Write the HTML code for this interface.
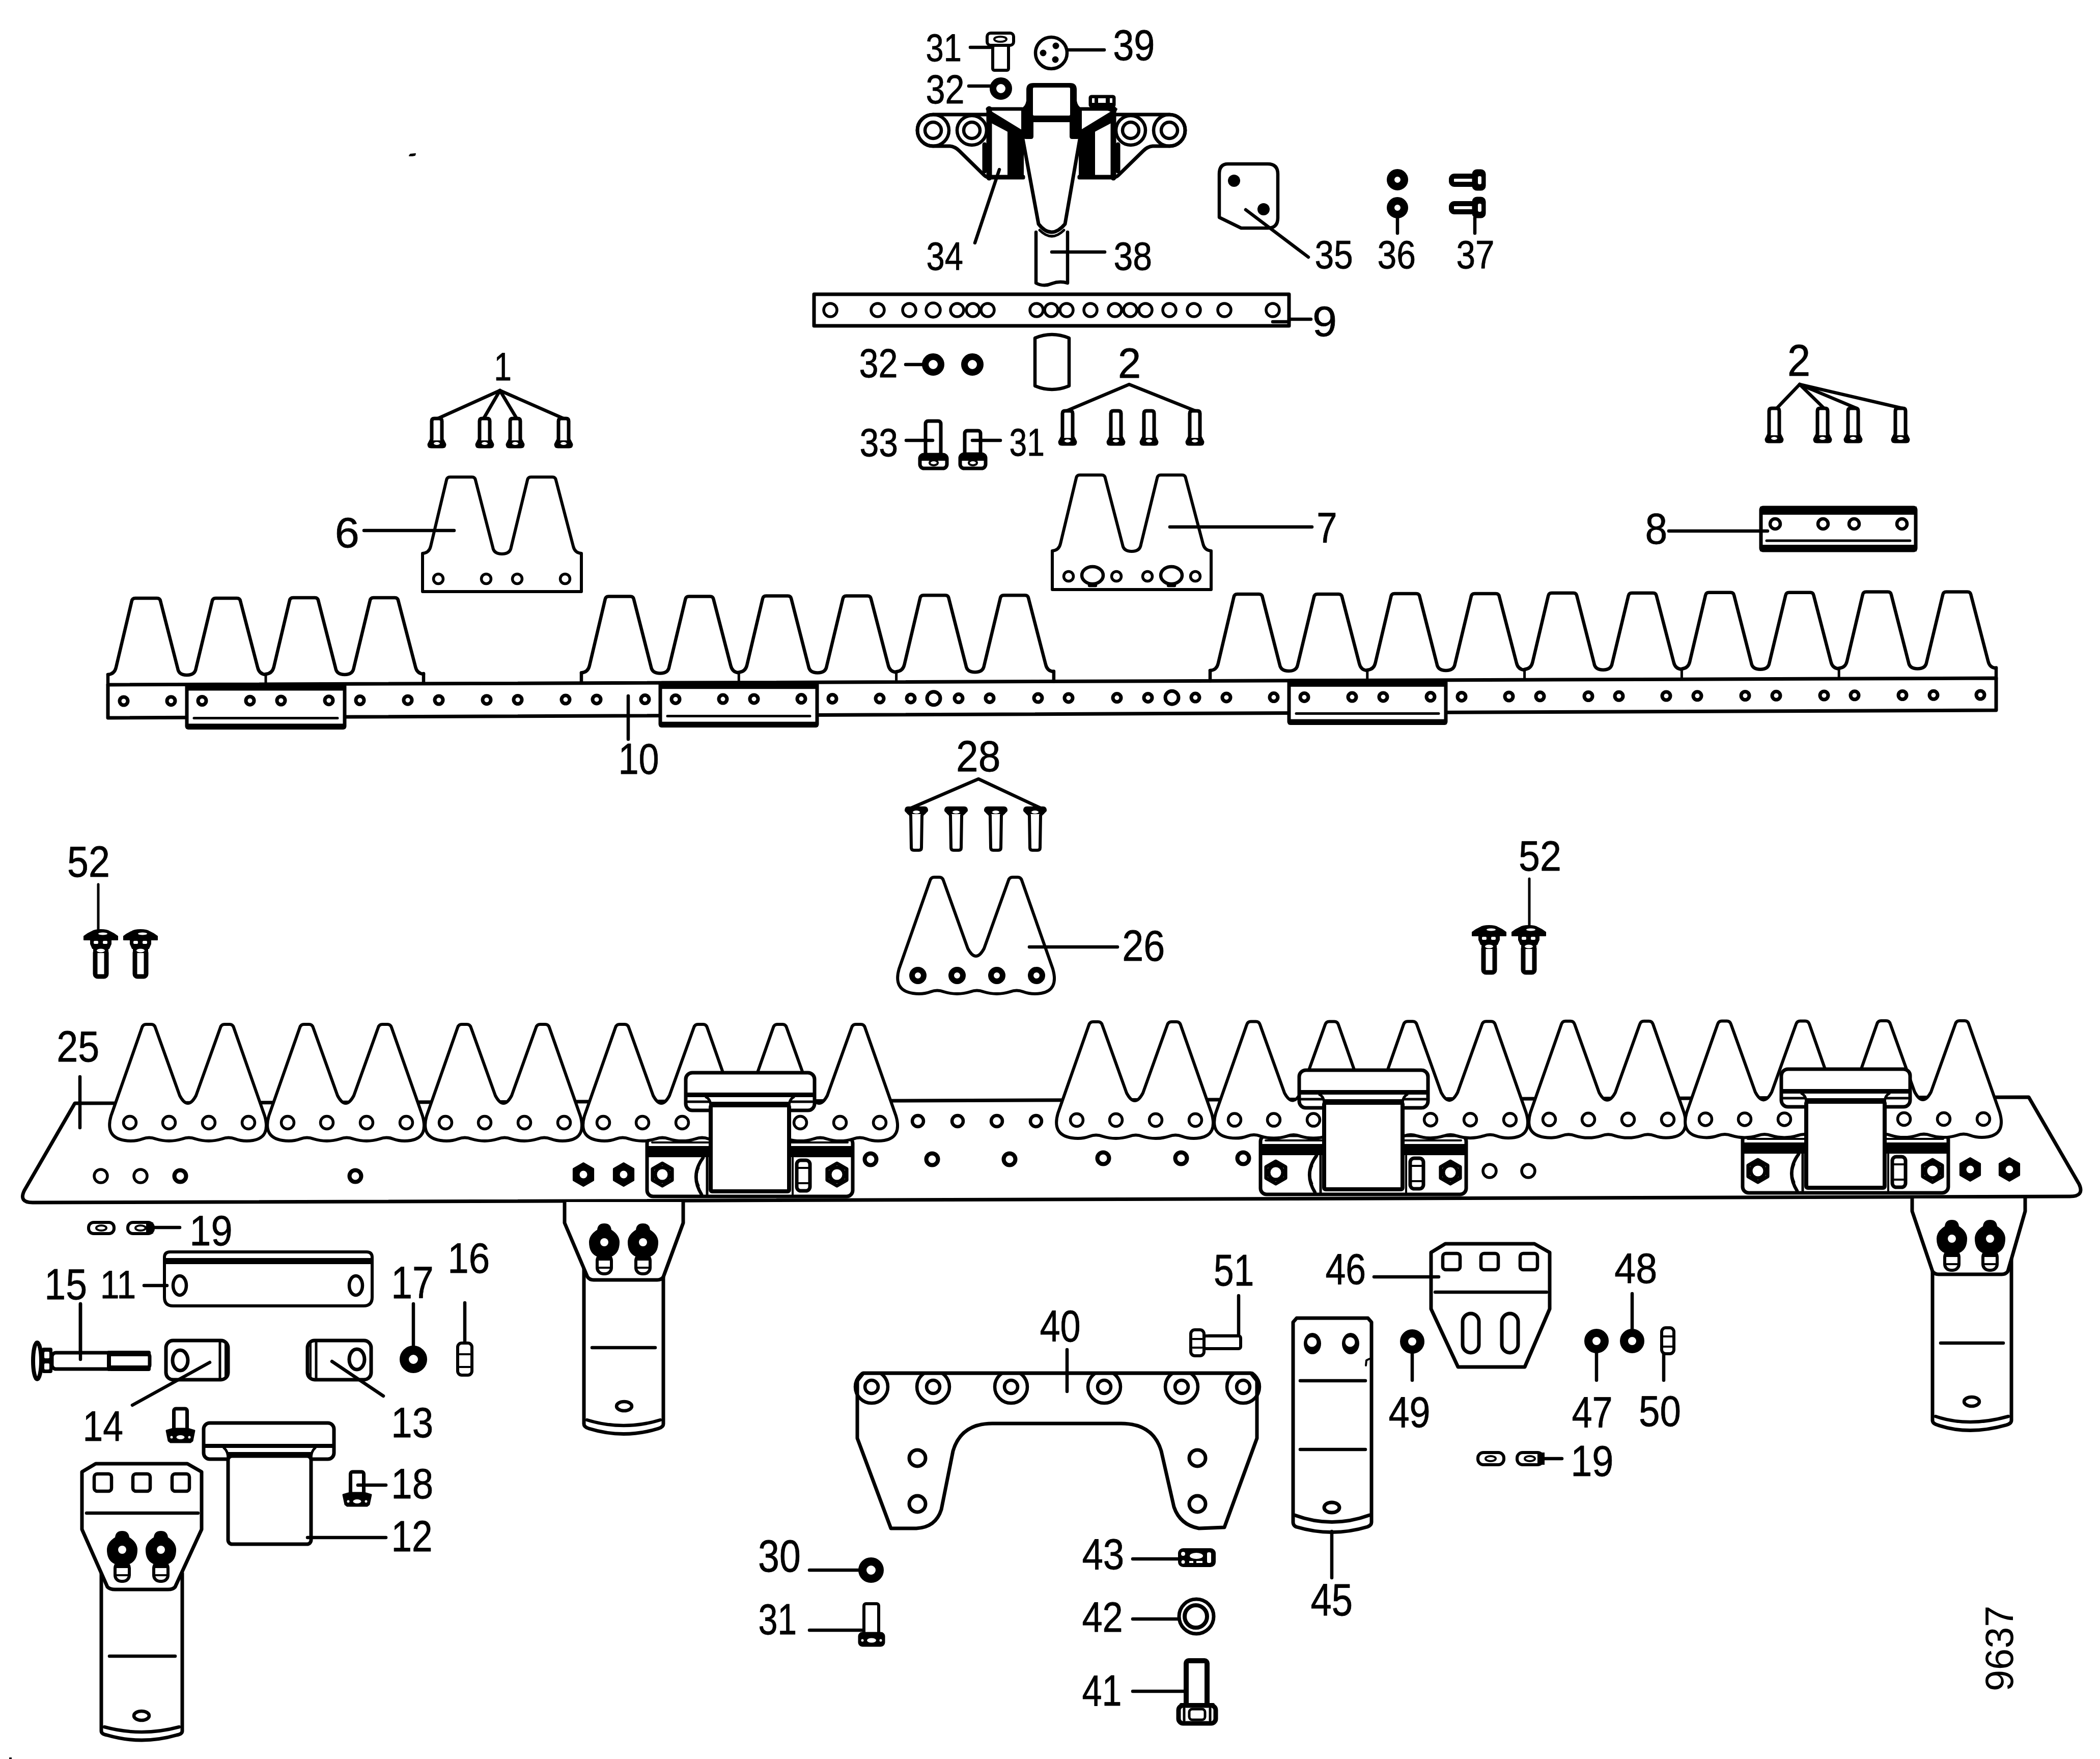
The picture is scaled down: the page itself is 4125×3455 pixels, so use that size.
<!DOCTYPE html>
<html><head><meta charset="utf-8"><style>
html,body{margin:0;padding:0;background:#fff;}
svg{display:block;}
text{font-family:"Liberation Sans",sans-serif;fill:#000;}
</style></head><body>
<svg width="4125" height="3455" viewBox="0 0 4125 3455">
<g fill="none" stroke="#000" stroke-linecap="round" stroke-linejoin="round">
<rect x="1939" y="65" width="52" height="24" rx="7" stroke-width="6" fill="#fff"/>
<ellipse cx="1965" cy="77" rx="12" ry="5" stroke-width="4" fill="none"/>
<rect x="1950" y="89" width="31" height="49" rx="3" stroke-width="6" fill="#fff"/>
<line x1="1906" y1="93" x2="1950" y2="93" stroke-width="6.5"/>
<circle cx="2065" cy="104" r="31" stroke-width="6.5" fill="none"/>
<circle cx="2074" cy="90" r="6.5" stroke-width="0" fill="#000"/>
<circle cx="2049" cy="104" r="6.5" stroke-width="0" fill="#000"/>
<circle cx="2073" cy="117" r="6.5" stroke-width="0" fill="#000"/>
<line x1="2096" y1="98" x2="2169" y2="98" stroke-width="6.5"/>
<circle cx="1966" cy="174" r="15.5" stroke-width="13" fill="none"/>
<line x1="1903" y1="169" x2="1945" y2="169" stroke-width="6.5"/>
<path d="M 1942,225 L 1833,225 A 31 31 0 0 0 1833,287 L 1866,287 Q 1876,288 1884,296 L 1933,344 Q 1938,349 1946,349 L 2010,349" stroke-width="7" fill="none"/>
<circle cx="1833" cy="256" r="31" stroke-width="6.5" fill="none"/>
<circle cx="1833" cy="256" r="16" stroke-width="6.5" fill="none"/>
<circle cx="1909" cy="256" r="29" stroke-width="6.5" fill="none"/>
<circle cx="1909" cy="256" r="16" stroke-width="6.5" fill="none"/>
<line x1="1940" y1="214" x2="2007" y2="214" stroke-width="7"/>
<line x1="1943" y1="214" x2="1943" y2="349" stroke-width="11"/>
<polygon points="1948,220 2010,258 2010,350 1980,350 1980,258 1948,241" stroke-width="2" fill="#000"/>
<line x1="1943" y1="347" x2="2010" y2="347" stroke-width="7"/>
<line x1="1934" y1="284" x2="1934" y2="336" stroke-width="9"/>
<path d="M 2188,225 L 2297,225 A 31 31 0 0 1 2297,287 L 2264,287 Q 2254,288 2246,296 L 2197,344 Q 2192,349 2184,349 L 2120,349" stroke-width="7" fill="none"/>
<circle cx="2297" cy="256" r="31" stroke-width="6.5" fill="none"/>
<circle cx="2297" cy="256" r="16" stroke-width="6.5" fill="none"/>
<circle cx="2221" cy="256" r="29" stroke-width="6.5" fill="none"/>
<circle cx="2221" cy="256" r="16" stroke-width="6.5" fill="none"/>
<line x1="2190" y1="214" x2="2123" y2="214" stroke-width="7"/>
<line x1="2187" y1="214" x2="2187" y2="349" stroke-width="11"/>
<polygon points="2182,220 2120,258 2120,350 2150,350 2150,258 2182,241" stroke-width="2" fill="#000"/>
<line x1="2187" y1="347" x2="2120" y2="347" stroke-width="7"/>
<line x1="2196" y1="284" x2="2196" y2="336" stroke-width="9"/>
<path d="M 2017,176 Q 2017,164 2030,164 L 2102,164 Q 2114,164 2114,176 L 2114,198 Q 2116,210 2124,213 L 2124,265 Q 2124,272 2116,272 L 2106,272 Q 2102,272 2102,268 L 2102,239 L 2029,239 L 2029,268 Q 2029,272 2025,272 L 2015,272 Q 2007,272 2007,265 L 2007,213 Q 2015,210 2017,198 Z" stroke-width="2" fill="#000"/>
<rect x="2029" y="172" width="73" height="55" rx="2" stroke="none" fill="#fff"/>
<path d="M 2007,262 L 2040,440 Q 2065,472 2092,440 L 2123,262" stroke-width="7" fill="none"/>
<path d="M 2042,452 Q 2066,476 2090,452" stroke-width="5" fill="none"/>
<rect x="2140" y="188" width="50" height="22" rx="4" stroke-width="3" fill="#000"/>
<rect x="2145" y="193" width="5" height="9" rx="0" stroke="none" fill="#fff"/>
<rect x="2157" y="193" width="15" height="9" rx="0" stroke="none" fill="#fff"/>
<rect x="2180" y="193" width="5" height="9" rx="0" stroke="none" fill="#fff"/>
<polygon points="2180,210 2194,214 2190,222 2176,216" stroke-width="2" fill="#000"/>
<path d="M 2035,456 L 2035,556 Q 2050,564 2066,557 Q 2082,551 2097,556 L 2097,456" stroke-width="6.5" fill="none"/>
<line x1="2066" y1="495" x2="2170" y2="495" stroke-width="6.5"/>
<line x1="1963" y1="333" x2="1915" y2="477" stroke-width="6.5"/>
<text transform="translate(1818.6,119.6) scale(0.837,1)" font-size="75.7" stroke="#000" stroke-width="0.8">31</text>
<text transform="translate(2186.2,117.6) scale(0.863,1)" font-size="85.7" stroke="#000" stroke-width="0.8">39</text>
<text transform="translate(1818.4,202.6) scale(0.854,1)" font-size="80" stroke="#000" stroke-width="0.8">32</text>
<text transform="translate(1819.5,529.6) scale(0.828,1)" font-size="78.6" stroke="#000" stroke-width="0.8">34</text>
<text transform="translate(2187.4,529.6) scale(0.864,1)" font-size="78.6" stroke="#000" stroke-width="0.8">38</text>
<path d="M 2412,322 L 2490,322 Q 2510,322 2510,342 L 2510,428 Q 2510,448 2490,448 L 2438,448 L 2395,427 L 2395,342 Q 2395,322 2412,322 Z" stroke-width="6.5" fill="none"/>
<circle cx="2424" cy="355" r="12" stroke-width="0" fill="#000"/>
<circle cx="2482" cy="411" r="12" stroke-width="0" fill="#000"/>
<line x1="2447" y1="412" x2="2570" y2="505" stroke-width="6.5"/>
<text transform="translate(2582.4,526.6) scale(0.862,1)" font-size="78.6" stroke="#000" stroke-width="0.8">35</text>
<circle cx="2745" cy="353" r="13.5" stroke-width="15" fill="none"/>
<circle cx="2745" cy="408" r="13.5" stroke-width="15" fill="none"/>
<line x1="2745" y1="430" x2="2745" y2="458" stroke-width="6.5"/>
<text transform="translate(2705.4,526.6) scale(0.864,1)" font-size="78.6" stroke="#000" stroke-width="0.8">36</text>
<rect x="2851" y="346" width="48" height="16" rx="6" stroke-width="10" fill="#fff"/>
<rect x="2893" y="334" width="24" height="39" rx="8" stroke-width="3" fill="#000"/>
<rect x="2903" y="346" width="7" height="16" rx="3" stroke-width="0" fill="#fff"/>
<rect x="2851" y="400" width="48" height="16" rx="6" stroke-width="10" fill="#fff"/>
<rect x="2893" y="388" width="24" height="39" rx="8" stroke-width="3" fill="#000"/>
<rect x="2903" y="400" width="7" height="16" rx="3" stroke-width="0" fill="#fff"/>
<line x1="2897" y1="428" x2="2897" y2="458" stroke-width="6.5"/>
<text transform="translate(2860.4,526.6) scale(0.858,1)" font-size="78.6" stroke="#000" stroke-width="0.8">37</text>
<rect x="1599" y="578" width="933" height="62" rx="0" stroke-width="7" fill="#fff"/>
<circle cx="1631" cy="609" r="13" stroke-width="5.5" fill="none"/>
<circle cx="1724" cy="609" r="13" stroke-width="5.5" fill="none"/>
<circle cx="1786" cy="609" r="13" stroke-width="5.5" fill="none"/>
<circle cx="1833" cy="609" r="14" stroke-width="5.5" fill="none"/>
<circle cx="1880" cy="609" r="13" stroke-width="5.5" fill="none"/>
<circle cx="1911" cy="609" r="13" stroke-width="5.5" fill="none"/>
<circle cx="1940" cy="609" r="13" stroke-width="5.5" fill="none"/>
<circle cx="2036" cy="609" r="13" stroke-width="5.5" fill="none"/>
<circle cx="2065" cy="609" r="13" stroke-width="5.5" fill="none"/>
<circle cx="2095" cy="609" r="13" stroke-width="5.5" fill="none"/>
<circle cx="2142" cy="609" r="13" stroke-width="5.5" fill="none"/>
<circle cx="2190" cy="609" r="13" stroke-width="5.5" fill="none"/>
<circle cx="2220" cy="609" r="13" stroke-width="5.5" fill="none"/>
<circle cx="2250" cy="609" r="13" stroke-width="5.5" fill="none"/>
<circle cx="2297" cy="609" r="13" stroke-width="5.5" fill="none"/>
<circle cx="2345" cy="609" r="13" stroke-width="5.5" fill="none"/>
<circle cx="2405" cy="609" r="13" stroke-width="5.5" fill="none"/>
<circle cx="2500" cy="609" r="13" stroke-width="5.5" fill="none"/>
<line x1="2500" y1="632" x2="2532" y2="632" stroke-width="6.5"/>
<line x1="2532" y1="627" x2="2575" y2="627" stroke-width="6.5"/>
<text transform="translate(2578,659.6) scale(1.043,1)" font-size="82.9" stroke="#000" stroke-width="0.8">9</text>
<circle cx="1833" cy="716" r="15.5" stroke-width="13" fill="none"/>
<circle cx="1910" cy="716" r="15.5" stroke-width="13" fill="none"/>
<line x1="1779" y1="716" x2="1812" y2="716" stroke-width="6.5"/>
<text transform="translate(1687.4,740.6) scale(0.854,1)" font-size="80" stroke="#000" stroke-width="0.8">32</text>
<path d="M 2033,664 Q 2066,650 2100,664 L 2100,758 Q 2066,772 2033,758 Z" stroke-width="6.5" fill="none"/>
<rect x="1818" y="827" width="30" height="67" rx="5" stroke-width="7" fill="#fff"/>
<rect x="1807" y="893" width="53" height="27" rx="8" stroke-width="7" fill="#fff"/>
<rect x="1807" y="893" width="53" height="12" rx="0" stroke="none" fill="#000"/>
<ellipse cx="1834" cy="909" rx="8" ry="5" stroke-width="4" fill="none"/>
<line x1="1780" y1="865" x2="1832" y2="865" stroke-width="6.5"/>
<text transform="translate(1688.4,895.6) scale(0.864,1)" font-size="78.6" stroke="#000" stroke-width="0.8">33</text>
<rect x="1895" y="846" width="31" height="48" rx="5" stroke-width="7" fill="#fff"/>
<rect x="1886" y="892" width="50" height="28" rx="8" stroke-width="7" fill="#fff"/>
<rect x="1886" y="892" width="50" height="13" rx="0" stroke="none" fill="#000"/>
<ellipse cx="1911" cy="909" rx="8" ry="5" stroke-width="4" fill="none"/>
<line x1="1910" y1="865" x2="1965" y2="865" stroke-width="6.5"/>
<text transform="translate(1982.6,894.6) scale(0.824,1)" font-size="75.7" stroke="#000" stroke-width="0.8">31</text>
<text transform="translate(970.2,746.6) scale(0.795,1)" font-size="78.6" stroke="#000" stroke-width="0.8">1</text>
<line x1="982" y1="767" x2="860" y2="822" stroke-width="6.5"/>
<line x1="982" y1="767" x2="950" y2="822" stroke-width="6.5"/>
<line x1="982" y1="767" x2="1015" y2="822" stroke-width="6.5"/>
<line x1="982" y1="767" x2="1107" y2="822" stroke-width="6.5"/>
<path d="M 848,863 L 848,827 Q 848,822 853,822 L 863,822 Q 868,822 868,827 L 868,863 L 873,873 Q 873,877 869,877 L 847,877 Q 843,877 843,873 Z" stroke-width="7" fill="#fff"/>
<rect x="845" y="865" width="26" height="11" rx="0" stroke="none" fill="#000"/>
<ellipse cx="858" cy="871" rx="6" ry="3" stroke-width="0" fill="#fff"/>
<path d="M 942,863 L 942,827 Q 942,822 947,822 L 957,822 Q 962,822 962,827 L 962,863 L 967,873 Q 967,877 963,877 L 941,877 Q 937,877 937,873 Z" stroke-width="7" fill="#fff"/>
<rect x="939" y="865" width="26" height="11" rx="0" stroke="none" fill="#000"/>
<ellipse cx="952" cy="871" rx="6" ry="3" stroke-width="0" fill="#fff"/>
<path d="M 1002,863 L 1002,827 Q 1002,822 1007,822 L 1017,822 Q 1022,822 1022,827 L 1022,863 L 1027,873 Q 1027,877 1023,877 L 1001,877 Q 997,877 997,873 Z" stroke-width="7" fill="#fff"/>
<rect x="999" y="865" width="26" height="11" rx="0" stroke="none" fill="#000"/>
<ellipse cx="1012" cy="871" rx="6" ry="3" stroke-width="0" fill="#fff"/>
<path d="M 1097,863 L 1097,827 Q 1097,822 1102,822 L 1112,822 Q 1117,822 1117,827 L 1117,863 L 1122,873 Q 1122,877 1118,877 L 1096,877 Q 1092,877 1092,873 Z" stroke-width="7" fill="#fff"/>
<rect x="1094" y="865" width="26" height="11" rx="0" stroke="none" fill="#000"/>
<ellipse cx="1107" cy="871" rx="6" ry="3" stroke-width="0" fill="#fff"/>
<text transform="translate(2195.9,741.6) scale(0.979,1)" font-size="82.9" stroke="#000" stroke-width="0.8">2</text>
<polyline points="2095,807 2218,755 2348,807" stroke-width="6.5"/>
<path d="M 2087,858 L 2087,812 Q 2087,807 2092,807 L 2102,807 Q 2107,807 2107,812 L 2107,858 L 2112,868 Q 2112,872 2108,872 L 2086,872 Q 2082,872 2082,868 Z" stroke-width="7" fill="#fff"/>
<rect x="2084" y="860" width="26" height="11" rx="0" stroke="none" fill="#000"/>
<ellipse cx="2097" cy="866" rx="6" ry="3" stroke-width="0" fill="#fff"/>
<path d="M 2182,858 L 2182,812 Q 2182,807 2187,807 L 2197,807 Q 2202,807 2202,812 L 2202,858 L 2207,868 Q 2207,872 2203,872 L 2181,872 Q 2177,872 2177,868 Z" stroke-width="7" fill="#fff"/>
<rect x="2179" y="860" width="26" height="11" rx="0" stroke="none" fill="#000"/>
<ellipse cx="2192" cy="866" rx="6" ry="3" stroke-width="0" fill="#fff"/>
<path d="M 2247,858 L 2247,812 Q 2247,807 2252,807 L 2262,807 Q 2267,807 2267,812 L 2267,858 L 2272,868 Q 2272,872 2268,872 L 2246,872 Q 2242,872 2242,868 Z" stroke-width="7" fill="#fff"/>
<rect x="2244" y="860" width="26" height="11" rx="0" stroke="none" fill="#000"/>
<ellipse cx="2257" cy="866" rx="6" ry="3" stroke-width="0" fill="#fff"/>
<path d="M 2337,858 L 2337,812 Q 2337,807 2342,807 L 2352,807 Q 2357,807 2357,812 L 2357,858 L 2362,868 Q 2362,872 2358,872 L 2336,872 Q 2332,872 2332,868 Z" stroke-width="7" fill="#fff"/>
<rect x="2334" y="860" width="26" height="11" rx="0" stroke="none" fill="#000"/>
<ellipse cx="2347" cy="866" rx="6" ry="3" stroke-width="0" fill="#fff"/>
<text transform="translate(3510.9,737.6) scale(0.931,1)" font-size="87.1" stroke="#000" stroke-width="0.8">2</text>
<line x1="3535" y1="755" x2="3490" y2="802" stroke-width="6.5"/>
<line x1="3535" y1="755" x2="3583" y2="802" stroke-width="6.5"/>
<line x1="3535" y1="755" x2="3647" y2="802" stroke-width="6.5"/>
<line x1="3535" y1="755" x2="3737" y2="802" stroke-width="6.5"/>
<path d="M 3475,853 L 3475,807 Q 3475,802 3480,802 L 3490,802 Q 3495,802 3495,807 L 3495,853 L 3500,863 Q 3500,867 3496,867 L 3474,867 Q 3470,867 3470,863 Z" stroke-width="7" fill="#fff"/>
<rect x="3472" y="855" width="26" height="11" rx="0" stroke="none" fill="#000"/>
<ellipse cx="3485" cy="861" rx="6" ry="3" stroke-width="0" fill="#fff"/>
<path d="M 3570,853 L 3570,807 Q 3570,802 3575,802 L 3585,802 Q 3590,802 3590,807 L 3590,853 L 3595,863 Q 3595,867 3591,867 L 3569,867 Q 3565,867 3565,863 Z" stroke-width="7" fill="#fff"/>
<rect x="3567" y="855" width="26" height="11" rx="0" stroke="none" fill="#000"/>
<ellipse cx="3580" cy="861" rx="6" ry="3" stroke-width="0" fill="#fff"/>
<path d="M 3630,853 L 3630,807 Q 3630,802 3635,802 L 3645,802 Q 3650,802 3650,807 L 3650,853 L 3655,863 Q 3655,867 3651,867 L 3629,867 Q 3625,867 3625,863 Z" stroke-width="7" fill="#fff"/>
<rect x="3627" y="855" width="26" height="11" rx="0" stroke="none" fill="#000"/>
<ellipse cx="3640" cy="861" rx="6" ry="3" stroke-width="0" fill="#fff"/>
<path d="M 3723,853 L 3723,807 Q 3723,802 3728,802 L 3738,802 Q 3743,802 3743,807 L 3743,853 L 3748,863 Q 3748,867 3744,867 L 3722,867 Q 3718,867 3718,863 Z" stroke-width="7" fill="#fff"/>
<rect x="3720" y="855" width="26" height="11" rx="0" stroke="none" fill="#000"/>
<ellipse cx="3733" cy="861" rx="6" ry="3" stroke-width="0" fill="#fff"/>
<text transform="translate(1878.1,1514.6) scale(0.916,1)" font-size="85.7" stroke="#000" stroke-width="0.8">28</text>
<polyline points="1783,1590 1922,1530 2050,1590" stroke-width="6.5"/>
<path d="M 1789,1601 L 1790,1665 Q 1790,1670 1795,1670 L 1805,1670 Q 1810,1670 1810,1665 L 1811,1601 L 1820,1592 Q 1820,1587 1816,1587 L 1784,1587 Q 1780,1587 1780,1592 Z" stroke-width="6" fill="#fff"/>
<rect x="1782" y="1588" width="36" height="11" rx="0" stroke="none" fill="#000"/>
<ellipse cx="1800" cy="1595" rx="7" ry="3" stroke-width="0" fill="#fff"/>
<path d="M 1867,1601 L 1868,1665 Q 1868,1670 1873,1670 L 1883,1670 Q 1888,1670 1888,1665 L 1889,1601 L 1898,1592 Q 1898,1587 1894,1587 L 1862,1587 Q 1858,1587 1858,1592 Z" stroke-width="6" fill="#fff"/>
<rect x="1860" y="1588" width="36" height="11" rx="0" stroke="none" fill="#000"/>
<ellipse cx="1878" cy="1595" rx="7" ry="3" stroke-width="0" fill="#fff"/>
<path d="M 1945,1601 L 1946,1665 Q 1946,1670 1951,1670 L 1961,1670 Q 1966,1670 1966,1665 L 1967,1601 L 1976,1592 Q 1976,1587 1972,1587 L 1940,1587 Q 1936,1587 1936,1592 Z" stroke-width="6" fill="#fff"/>
<rect x="1938" y="1588" width="36" height="11" rx="0" stroke="none" fill="#000"/>
<ellipse cx="1956" cy="1595" rx="7" ry="3" stroke-width="0" fill="#fff"/>
<path d="M 2022,1601 L 2023,1665 Q 2023,1670 2028,1670 L 2038,1670 Q 2043,1670 2043,1665 L 2044,1601 L 2053,1592 Q 2053,1587 2049,1587 L 2017,1587 Q 2013,1587 2013,1592 Z" stroke-width="6" fill="#fff"/>
<rect x="2015" y="1588" width="36" height="11" rx="0" stroke="none" fill="#000"/>
<ellipse cx="2033" cy="1595" rx="7" ry="3" stroke-width="0" fill="#fff"/>
<path d="M 830,1087 Q 843,1086 846,1073 L 877,943 Q 878,937 884,937 L 927,937 Q 933,937 934,943 L 968,1075 Q 970,1088 986,1088 Q 1002,1088 1004,1075 L 1036,943 Q 1037,937 1043,937 L 1085,937 Q 1091,937 1092,943 L 1126,1073 Q 1129,1086 1142,1087 L 1142,1162 L 830,1162 Z" stroke-width="6" fill="#fff"/>
<circle cx="861" cy="1137" r="9.5" stroke-width="5.5" fill="none"/>
<circle cx="955" cy="1137" r="9.5" stroke-width="5.5" fill="none"/>
<circle cx="1016" cy="1137" r="9.5" stroke-width="5.5" fill="none"/>
<circle cx="1110" cy="1137" r="9.5" stroke-width="5.5" fill="none"/>
<line x1="715" y1="1042" x2="892" y2="1042" stroke-width="6.5"/>
<text transform="translate(657.7,1074.6) scale(1.043,1)" font-size="82.9" stroke="#000" stroke-width="0.8">6</text>
<path d="M 2067,1082 Q 2080,1081 2083,1068 L 2114,939 Q 2115,933 2121,933 L 2164,933 Q 2170,933 2171,939 L 2205,1070 Q 2207,1083 2223,1083 Q 2239,1083 2241,1070 L 2273,939 Q 2274,933 2280,933 L 2322,933 Q 2328,933 2329,939 L 2363,1068 Q 2366,1081 2379,1082 L 2379,1158 L 2067,1158 Z" stroke-width="6" fill="#fff"/>
<circle cx="2099" cy="1132" r="9.5" stroke-width="5.5" fill="none"/>
<circle cx="2193" cy="1132" r="9.5" stroke-width="5.5" fill="none"/>
<circle cx="2254" cy="1132" r="9.5" stroke-width="5.5" fill="none"/>
<circle cx="2348" cy="1132" r="9.5" stroke-width="5.5" fill="none"/>
<ellipse cx="2146" cy="1130" rx="21" ry="17" stroke-width="6.5" fill="none"/>
<line x1="2140" y1="1150" x2="2152" y2="1150" stroke-width="6.5"/>
<ellipse cx="2301" cy="1130" rx="21" ry="17" stroke-width="6.5" fill="none"/>
<line x1="2295" y1="1150" x2="2307" y2="1150" stroke-width="6.5"/>
<line x1="2298" y1="1035" x2="2577" y2="1035" stroke-width="6.5"/>
<text transform="translate(2586.3,1064.6) scale(0.875,1)" font-size="82.9" stroke="#000" stroke-width="0.8">7</text>
<rect x="3459" y="997" width="304" height="84" rx="4" stroke-width="7" fill="#fff"/>
<rect x="3457" y="995" width="308" height="16" rx="0" stroke="none" fill="#000"/>
<rect x="3457" y="1070" width="308" height="13" rx="0" stroke="none" fill="#000"/>
<line x1="3470" y1="1062" x2="3752" y2="1062" stroke-width="5"/>
<circle cx="3487" cy="1029" r="10" stroke-width="6.5" fill="none"/>
<circle cx="3581" cy="1029" r="10" stroke-width="6.5" fill="none"/>
<circle cx="3642" cy="1029" r="10" stroke-width="6.5" fill="none"/>
<circle cx="3736" cy="1029" r="10" stroke-width="6.5" fill="none"/>
<line x1="3278" y1="1043" x2="3472" y2="1043" stroke-width="6.5"/>
<text transform="translate(3231.6,1067.6) scale(0.918,1)" font-size="85.7" stroke="#000" stroke-width="0.8">8</text>
<polygon points="212,1345 3921,1332 3921,1395 212,1410" stroke-width="7" fill="#fff"/>
<path d="M 212,1325 Q 224.9,1324 227.9,1311 L 258.7,1181 Q 259.7,1175 265.7,1175 L 308.4,1175 Q 314.3,1175 315.3,1181 L 349.1,1313 Q 351.1,1326 367,1326 Q 382.9,1326 384.9,1313 L 416.7,1181 Q 417.7,1175 423.6,1175 L 465.4,1175 Q 471.3,1175 472.3,1181 L 506.1,1311 Q 509.1,1324 522,1325" stroke-width="6.5" fill="none"/>
<line x1="212" y1="1325" x2="212" y2="1345" stroke-width="6.5"/>
<path d="M 522,1323.9 Q 534.9,1322.9 537.9,1309.9 L 568.7,1179.9 Q 569.7,1173.9 575.7,1173.9 L 618.4,1173.9 Q 624.3,1173.9 625.3,1179.9 L 659.1,1311.9 Q 661.1,1324.9 677,1324.9 Q 692.9,1324.9 694.9,1311.9 L 726.7,1179.9 Q 727.7,1173.9 733.6,1173.9 L 775.4,1173.9 Q 781.3,1173.9 782.3,1179.9 L 816.1,1309.9 Q 819.1,1322.9 832,1323.9" stroke-width="6.5" fill="none"/>
<line x1="522" y1="1323.9" x2="522" y2="1343.9" stroke-width="5"/>
<line x1="832" y1="1322.9" x2="832" y2="1342.8" stroke-width="6.5"/>
<path d="M 1142,1321.6 Q 1154.9,1320.6 1157.9,1307.6 L 1188.6,1177.6 Q 1189.6,1171.6 1195.5,1171.6 L 1238.2,1171.6 Q 1244.1,1171.6 1245.1,1177.6 L 1278.8,1309.6 Q 1280.8,1322.6 1296.7,1322.6 Q 1312.5,1322.6 1314.5,1309.6 L 1346.2,1177.6 Q 1347.2,1171.6 1353.2,1171.6 L 1394.8,1171.6 Q 1400.7,1171.6 1401.7,1177.6 L 1435.4,1307.6 Q 1438.4,1320.6 1451.3,1321.6" stroke-width="6.5" fill="none"/>
<line x1="1142" y1="1321.6" x2="1142" y2="1341.7" stroke-width="6.5"/>
<path d="M 1451.3,1320.5 Q 1464.2,1319.5 1467.2,1306.5 L 1497.9,1176.5 Q 1498.9,1170.5 1504.8,1170.5 L 1547.5,1170.5 Q 1553.4,1170.5 1554.4,1176.5 L 1588.1,1308.5 Q 1590.1,1321.5 1606,1321.5 Q 1621.8,1321.5 1623.8,1308.5 L 1655.5,1176.5 Q 1656.5,1170.5 1662.5,1170.5 L 1704.1,1170.5 Q 1710,1170.5 1711,1176.5 L 1744.7,1306.5 Q 1747.7,1319.5 1760.6,1320.5" stroke-width="6.5" fill="none"/>
<line x1="1451.3" y1="1320.5" x2="1451.3" y2="1340.7" stroke-width="5"/>
<path d="M 1760.6,1319.3 Q 1773.5,1318.3 1776.5,1305.3 L 1807.2,1175.3 Q 1808.2,1169.3 1814.1,1169.3 L 1856.8,1169.3 Q 1862.7,1169.3 1863.7,1175.3 L 1897.4,1307.3 Q 1899.4,1320.3 1915.2,1320.3 Q 1931.1,1320.3 1933.1,1307.3 L 1964.8,1175.3 Q 1965.8,1169.3 1971.8,1169.3 L 2013.4,1169.3 Q 2019.3,1169.3 2020.3,1175.3 L 2054,1305.3 Q 2057,1318.3 2069.9,1319.3" stroke-width="6.5" fill="none"/>
<line x1="1760.6" y1="1319.3" x2="1760.6" y2="1339.6" stroke-width="5"/>
<line x1="2069.9" y1="1318.4" x2="2069.9" y2="1338.5" stroke-width="6.5"/>
<path d="M 2377,1317.1 Q 2389.9,1316.1 2392.8,1303.1 L 2423.5,1173.1 Q 2424.5,1167.1 2430.4,1167.1 L 2473,1167.1 Q 2478.9,1167.1 2479.9,1173.1 L 2513.6,1305.1 Q 2515.6,1318.1 2531.4,1318.1 Q 2547.2,1318.1 2549.2,1305.1 L 2580.9,1173.1 Q 2581.9,1167.1 2587.8,1167.1 L 2629.4,1167.1 Q 2635.3,1167.1 2636.3,1173.1 L 2670,1303.1 Q 2672.9,1316.1 2685.8,1317.1" stroke-width="6.5" fill="none"/>
<line x1="2377" y1="1317.1" x2="2377" y2="1337.4" stroke-width="6.5"/>
<path d="M 2685.8,1316 Q 2698.7,1315 2701.6,1302 L 2732.3,1172 Q 2733.3,1166 2739.2,1166 L 2781.8,1166 Q 2787.7,1166 2788.7,1172 L 2822.4,1304 Q 2824.4,1317 2840.2,1317 Q 2856,1317 2858,1304 L 2889.7,1172 Q 2890.7,1166 2896.6,1166 L 2938.2,1166 Q 2944.1,1166 2945.1,1172 L 2978.8,1302 Q 2981.7,1315 2994.6,1316" stroke-width="6.5" fill="none"/>
<line x1="2685.8" y1="1316" x2="2685.8" y2="1336.3" stroke-width="5"/>
<path d="M 2994.6,1314.8 Q 3007.5,1313.8 3010.4,1300.8 L 3041.1,1170.8 Q 3042.1,1164.8 3048,1164.8 L 3090.6,1164.8 Q 3096.5,1164.8 3097.5,1170.8 L 3131.2,1302.8 Q 3133.2,1315.8 3149,1315.8 Q 3164.8,1315.8 3166.8,1302.8 L 3198.5,1170.8 Q 3199.5,1164.8 3205.4,1164.8 L 3247,1164.8 Q 3252.9,1164.8 3253.9,1170.8 L 3287.6,1300.8 Q 3290.5,1313.8 3303.4,1314.8" stroke-width="6.5" fill="none"/>
<line x1="2994.6" y1="1314.8" x2="2994.6" y2="1335.2" stroke-width="5"/>
<path d="M 3303.4,1313.7 Q 3316.3,1312.7 3319.2,1299.7 L 3349.9,1169.7 Q 3350.9,1163.7 3356.8,1163.7 L 3399.4,1163.7 Q 3405.3,1163.7 3406.3,1169.7 L 3440,1301.7 Q 3442,1314.7 3457.8,1314.7 Q 3473.6,1314.7 3475.6,1301.7 L 3507.3,1169.7 Q 3508.3,1163.7 3514.2,1163.7 L 3555.8,1163.7 Q 3561.7,1163.7 3562.7,1169.7 L 3596.4,1299.7 Q 3599.3,1312.7 3612.2,1313.7" stroke-width="6.5" fill="none"/>
<line x1="3303.4" y1="1313.7" x2="3303.4" y2="1334.2" stroke-width="5"/>
<path d="M 3612.2,1312.6 Q 3625.1,1311.6 3628,1298.6 L 3658.7,1168.6 Q 3659.7,1162.6 3665.6,1162.6 L 3708.2,1162.6 Q 3714.1,1162.6 3715.1,1168.6 L 3748.8,1300.6 Q 3750.8,1313.6 3766.6,1313.6 Q 3782.4,1313.6 3784.4,1300.6 L 3816.1,1168.6 Q 3817.1,1162.6 3823,1162.6 L 3864.6,1162.6 Q 3870.5,1162.6 3871.5,1168.6 L 3905.2,1298.6 Q 3908.1,1311.6 3921,1312.6" stroke-width="6.5" fill="none"/>
<line x1="3612.2" y1="1312.6" x2="3612.2" y2="1333.1" stroke-width="5"/>
<line x1="3921" y1="1311.6" x2="3921" y2="1332" stroke-width="6.5"/>
<rect x="367" y="1344.5" width="310" height="84.9" rx="3" stroke-width="7" fill="#fff"/>
<rect x="365" y="1341.5" width="314" height="15" rx="0" stroke="none" fill="#000"/>
<rect x="365" y="1421.4" width="314" height="10" rx="0" stroke="none" fill="#000"/>
<line x1="381" y1="1410.4" x2="663" y2="1410.4" stroke-width="5"/>
<rect x="1297" y="1341.2" width="308" height="84.4" rx="3" stroke-width="7" fill="#fff"/>
<rect x="1295" y="1338.2" width="312" height="15" rx="0" stroke="none" fill="#000"/>
<rect x="1295" y="1417.6" width="312" height="10" rx="0" stroke="none" fill="#000"/>
<line x1="1311" y1="1406.6" x2="1591" y2="1406.6" stroke-width="5"/>
<rect x="2532" y="1336.9" width="308" height="83.7" rx="3" stroke-width="7" fill="#fff"/>
<rect x="2530" y="1333.9" width="312" height="15" rx="0" stroke="none" fill="#000"/>
<rect x="2530" y="1412.6" width="312" height="10" rx="0" stroke="none" fill="#000"/>
<line x1="2546" y1="1401.6" x2="2826" y2="1401.6" stroke-width="5"/>
<circle cx="243" cy="1377" r="8" stroke-width="7" fill="none"/>
<circle cx="336" cy="1376.7" r="8" stroke-width="7" fill="none"/>
<circle cx="397" cy="1376.5" r="8" stroke-width="7" fill="none"/>
<circle cx="491" cy="1376.2" r="8" stroke-width="7" fill="none"/>
<circle cx="552" cy="1376" r="8" stroke-width="7" fill="none"/>
<circle cx="646" cy="1375.7" r="8" stroke-width="7" fill="none"/>
<circle cx="707" cy="1375.5" r="8" stroke-width="7" fill="none"/>
<circle cx="801" cy="1375.2" r="8" stroke-width="7" fill="none"/>
<circle cx="862" cy="1375" r="8" stroke-width="7" fill="none"/>
<circle cx="956" cy="1374.7" r="8" stroke-width="7" fill="none"/>
<circle cx="1017" cy="1374.5" r="8" stroke-width="7" fill="none"/>
<circle cx="1111" cy="1374.1" r="8" stroke-width="7" fill="none"/>
<circle cx="1172" cy="1373.9" r="8" stroke-width="7" fill="none"/>
<circle cx="1267" cy="1373.6" r="8" stroke-width="7" fill="none"/>
<circle cx="1327" cy="1373.4" r="8" stroke-width="7" fill="none"/>
<circle cx="1420" cy="1373.1" r="8" stroke-width="7" fill="none"/>
<circle cx="1481" cy="1372.9" r="8" stroke-width="7" fill="none"/>
<circle cx="1574" cy="1372.6" r="8" stroke-width="7" fill="none"/>
<circle cx="1635" cy="1372.4" r="8" stroke-width="7" fill="none"/>
<circle cx="1728" cy="1372.1" r="8" stroke-width="7" fill="none"/>
<circle cx="1789" cy="1371.9" r="8" stroke-width="7" fill="none"/>
<circle cx="1834" cy="1371.8" r="13" stroke-width="7" fill="none"/>
<circle cx="1883" cy="1371.6" r="8" stroke-width="7" fill="none"/>
<circle cx="1944" cy="1371.4" r="8" stroke-width="7" fill="none"/>
<circle cx="2039" cy="1371.1" r="8" stroke-width="7" fill="none"/>
<circle cx="2099" cy="1370.9" r="8" stroke-width="7" fill="none"/>
<circle cx="2194" cy="1370.6" r="8" stroke-width="7" fill="none"/>
<circle cx="2255" cy="1370.4" r="8" stroke-width="7" fill="none"/>
<circle cx="2302" cy="1370.2" r="13" stroke-width="7" fill="none"/>
<circle cx="2348" cy="1370.1" r="8" stroke-width="7" fill="none"/>
<circle cx="2409" cy="1369.9" r="8" stroke-width="7" fill="none"/>
<circle cx="2502" cy="1369.6" r="8" stroke-width="7" fill="none"/>
<circle cx="2562" cy="1369.4" r="8" stroke-width="7" fill="none"/>
<circle cx="2656" cy="1369.1" r="8" stroke-width="7" fill="none"/>
<circle cx="2717" cy="1368.9" r="8" stroke-width="7" fill="none"/>
<circle cx="2810" cy="1368.6" r="8" stroke-width="7" fill="none"/>
<circle cx="2871" cy="1368.4" r="8" stroke-width="7" fill="none"/>
<circle cx="2964" cy="1368" r="8" stroke-width="7" fill="none"/>
<circle cx="3025" cy="1367.8" r="8" stroke-width="7" fill="none"/>
<circle cx="3120" cy="1367.5" r="8" stroke-width="7" fill="none"/>
<circle cx="3180" cy="1367.3" r="8" stroke-width="7" fill="none"/>
<circle cx="3273" cy="1367" r="8" stroke-width="7" fill="none"/>
<circle cx="3334" cy="1366.8" r="8" stroke-width="7" fill="none"/>
<circle cx="3428" cy="1366.5" r="8" stroke-width="7" fill="none"/>
<circle cx="3489" cy="1366.3" r="8" stroke-width="7" fill="none"/>
<circle cx="3583" cy="1366" r="8" stroke-width="7" fill="none"/>
<circle cx="3643" cy="1365.8" r="8" stroke-width="7" fill="none"/>
<circle cx="3737" cy="1365.5" r="8" stroke-width="7" fill="none"/>
<circle cx="3798" cy="1365.3" r="8" stroke-width="7" fill="none"/>
<circle cx="3890" cy="1365" r="8" stroke-width="7" fill="none"/>
<line x1="1234" y1="1367" x2="1234" y2="1452" stroke-width="6.5"/>
<text transform="translate(1214.5,1519.6) scale(0.842,1)" font-size="85.7" stroke="#000" stroke-width="0.8">10</text>
<path d="M 1827,1729 Q 1829,1723 1835,1723 L 1845,1723 Q 1851,1723 1853,1729 L 1901,1863 Q 1917,1893 1933,1863 L 1981,1729 Q 1983,1723 1989,1723 L 1999,1723 Q 2005,1723 2007,1729 L 2068,1903 Q 2080,1945 2045,1951 Q 2026,1954 2010,1948 Q 1997,1943 1984,1948 Q 1958,1956 1932,1948 Q 1919,1943 1906,1948 Q 1880,1956 1854,1948 Q 1841,1943 1828,1948 Q 1812,1954 1793,1951 Q 1754,1945 1766,1903 Z" stroke-width="6" fill="#fff"/>
<circle cx="1803" cy="1916" r="11.5" stroke-width="11" fill="none"/>
<circle cx="1880" cy="1916" r="11.5" stroke-width="11" fill="none"/>
<circle cx="1958" cy="1916" r="11.5" stroke-width="11" fill="none"/>
<circle cx="2036" cy="1916" r="11.5" stroke-width="11" fill="none"/>
<line x1="2022" y1="1860" x2="2195" y2="1860" stroke-width="6.5"/>
<text transform="translate(2204.2,1886.6) scale(0.882,1)" font-size="85.7" stroke="#000" stroke-width="0.8">26</text>
<text transform="translate(132,1721.6) scale(0.879,1)" font-size="85.7" stroke="#000" stroke-width="0.8">52</text>
<line x1="193" y1="1737" x2="193" y2="1826" stroke-width="5"/>
<path d="M 165,1846 L 165,1839 Q 171,1834 180,1830 Q 186,1826 198,1826 Q 210,1826 216,1830 Q 225,1834 231,1839 L 231,1846 Z" stroke-width="2" fill="#000"/>
<polygon points="178,1844 218,1844 218,1854 214,1863 182,1863 178,1854" stroke-width="2" fill="#000"/>
<rect x="187" y="1866" width="22" height="52" rx="5" stroke-width="9" fill="#fff"/>
<rect x="183" y="1860" width="30" height="12" rx="0" stroke="none" fill="#000"/>
<ellipse cx="198" cy="1867" rx="8" ry="3.5" stroke-width="0" fill="#fff"/>
<rect x="184" y="1848" width="9" height="6" rx="2" stroke="none" fill="#fff"/>
<rect x="202" y="1848" width="9" height="6" rx="2" stroke="none" fill="#fff"/>
<ellipse cx="202" cy="1834" rx="9" ry="2.5" stroke-width="0" fill="#fff"/>
<path d="M 243,1846 L 243,1839 Q 249,1834 258,1830 Q 264,1826 276,1826 Q 288,1826 294,1830 Q 303,1834 309,1839 L 309,1846 Z" stroke-width="2" fill="#000"/>
<polygon points="256,1844 296,1844 296,1854 292,1863 260,1863 256,1854" stroke-width="2" fill="#000"/>
<rect x="265" y="1866" width="22" height="52" rx="5" stroke-width="9" fill="#fff"/>
<rect x="261" y="1860" width="30" height="12" rx="0" stroke="none" fill="#000"/>
<ellipse cx="276" cy="1867" rx="8" ry="3.5" stroke-width="0" fill="#fff"/>
<rect x="262" y="1848" width="9" height="6" rx="2" stroke="none" fill="#fff"/>
<rect x="280" y="1848" width="9" height="6" rx="2" stroke="none" fill="#fff"/>
<ellipse cx="280" cy="1834" rx="9" ry="2.5" stroke-width="0" fill="#fff"/>
<text transform="translate(2983,1709.6) scale(0.909,1)" font-size="82.9" stroke="#000" stroke-width="0.8">52</text>
<line x1="3004" y1="1726" x2="3004" y2="1818" stroke-width="5"/>
<path d="M 2892,1838 L 2892,1831 Q 2898,1826 2907,1822 Q 2913,1818 2925,1818 Q 2937,1818 2943,1822 Q 2952,1826 2958,1831 L 2958,1838 Z" stroke-width="2" fill="#000"/>
<polygon points="2905,1836 2945,1836 2945,1846 2941,1855 2909,1855 2905,1846" stroke-width="2" fill="#000"/>
<rect x="2914" y="1858" width="22" height="52" rx="5" stroke-width="9" fill="#fff"/>
<rect x="2910" y="1852" width="30" height="12" rx="0" stroke="none" fill="#000"/>
<ellipse cx="2925" cy="1859" rx="8" ry="3.5" stroke-width="0" fill="#fff"/>
<rect x="2911" y="1840" width="9" height="6" rx="2" stroke="none" fill="#fff"/>
<rect x="2929" y="1840" width="9" height="6" rx="2" stroke="none" fill="#fff"/>
<ellipse cx="2929" cy="1826" rx="9" ry="2.5" stroke-width="0" fill="#fff"/>
<path d="M 2970,1838 L 2970,1831 Q 2976,1826 2985,1822 Q 2991,1818 3003,1818 Q 3015,1818 3021,1822 Q 3030,1826 3036,1831 L 3036,1838 Z" stroke-width="2" fill="#000"/>
<polygon points="2983,1836 3023,1836 3023,1846 3019,1855 2987,1855 2983,1846" stroke-width="2" fill="#000"/>
<rect x="2992" y="1858" width="22" height="52" rx="5" stroke-width="9" fill="#fff"/>
<rect x="2988" y="1852" width="30" height="12" rx="0" stroke="none" fill="#000"/>
<ellipse cx="3003" cy="1859" rx="8" ry="3.5" stroke-width="0" fill="#fff"/>
<rect x="2989" y="1840" width="9" height="6" rx="2" stroke="none" fill="#fff"/>
<rect x="3007" y="1840" width="9" height="6" rx="2" stroke="none" fill="#fff"/>
<ellipse cx="3007" cy="1826" rx="9" ry="2.5" stroke-width="0" fill="#fff"/>
<path d="M 147,2167 L 3985,2155 L 4084,2326 Q 4095,2350 4066,2350 L 64,2362 Q 36,2362 48,2338 Z" stroke-width="7" fill="#fff"/>
<line x1="157" y1="2115" x2="157" y2="2215" stroke-width="6.5"/>
<text transform="translate(111.2,2084.6) scale(0.880,1)" font-size="85.7" stroke="#000" stroke-width="0.8">25</text>
<circle cx="198" cy="2310" r="13" stroke-width="5.5" fill="none"/>
<circle cx="276" cy="2310" r="13" stroke-width="5.5" fill="none"/>
<circle cx="354" cy="2310" r="11.5" stroke-width="8" fill="none"/>
<circle cx="698" cy="2310" r="11.5" stroke-width="8" fill="none"/>
<circle cx="1710" cy="2277" r="11.5" stroke-width="8" fill="none"/>
<circle cx="1831" cy="2277" r="11.5" stroke-width="8" fill="none"/>
<circle cx="1983" cy="2277" r="11.5" stroke-width="8" fill="none"/>
<circle cx="2167" cy="2275" r="11.5" stroke-width="8" fill="none"/>
<circle cx="2320" cy="2275" r="11.5" stroke-width="8" fill="none"/>
<circle cx="2442" cy="2275" r="11.5" stroke-width="8" fill="none"/>
<circle cx="2926" cy="2300" r="13" stroke-width="5.5" fill="none"/>
<circle cx="3002" cy="2300" r="13" stroke-width="5.5" fill="none"/>
<circle cx="1803" cy="2202" r="11" stroke-width="6.5" fill="none"/>
<circle cx="1881" cy="2202" r="11" stroke-width="6.5" fill="none"/>
<circle cx="1958" cy="2202" r="11" stroke-width="6.5" fill="none"/>
<circle cx="2035" cy="2202" r="11" stroke-width="6.5" fill="none"/>
<polygon points="1146,2329 1126.9,2318 1126.9,2296 1146,2285 1165.1,2296 1165.1,2318" stroke-width="4" fill="#000"/>
<circle cx="1146" cy="2307" r="7.5" stroke-width="0" fill="#fff"/>
<polygon points="1225,2329 1205.9,2318 1205.9,2296 1225,2285 1244.1,2296 1244.1,2318" stroke-width="4" fill="#000"/>
<circle cx="1225" cy="2307" r="7.5" stroke-width="0" fill="#fff"/>
<polygon points="3870,2319 3850.9,2308 3850.9,2286 3870,2275 3889.1,2286 3889.1,2308" stroke-width="4" fill="#000"/>
<circle cx="3870" cy="2297" r="7.5" stroke-width="0" fill="#fff"/>
<polygon points="3947,2319 3927.9,2308 3927.9,2286 3947,2275 3966.1,2286 3966.1,2308" stroke-width="4" fill="#000"/>
<circle cx="3947" cy="2297" r="7.5" stroke-width="0" fill="#fff"/>
<rect x="1271" y="2234" width="404" height="116" rx="12" stroke-width="7" fill="#fff"/>
<rect x="1273" y="2251" width="125" height="22" rx="0" stroke="none" fill="#000"/>
<rect x="1548" y="2251" width="125" height="22" rx="0" stroke="none" fill="#000"/>
<line x1="1281" y1="2244" x2="1393" y2="2244" stroke-width="4"/>
<line x1="1553" y1="2244" x2="1665" y2="2244" stroke-width="4"/>
<polygon points="1301,2329 1281.9,2318 1281.9,2296 1301,2285 1320.1,2296 1320.1,2318" stroke-width="7" fill="none"/>
<circle cx="1301" cy="2307" r="14" stroke-width="7" fill="none"/>
<polygon points="1644,2329 1624.9,2318 1624.9,2296 1644,2285 1663.1,2296 1663.1,2318" stroke-width="7" fill="none"/>
<circle cx="1644" cy="2307" r="14" stroke-width="7" fill="none"/>
<path d="M 1381,2274 Q 1355,2309 1378,2346" stroke-width="6.5" fill="none"/>
<line x1="1389" y1="2274" x2="1389" y2="2346" stroke-width="5"/>
<path d="M 1373,2294 Q 1365,2312 1373,2329" stroke-width="3" fill="none"/>
<rect x="1565" y="2279" width="26" height="60" rx="8" stroke-width="7" fill="none"/>
<line x1="1565" y1="2294" x2="1591" y2="2294" stroke-width="4"/>
<line x1="1565" y1="2324" x2="1591" y2="2324" stroke-width="4"/>
<line x1="1557" y1="2274" x2="1557" y2="2346" stroke-width="4"/>
<rect x="2476" y="2230" width="404" height="116" rx="12" stroke-width="7" fill="#fff"/>
<rect x="2478" y="2247" width="125" height="22" rx="0" stroke="none" fill="#000"/>
<rect x="2753" y="2247" width="125" height="22" rx="0" stroke="none" fill="#000"/>
<line x1="2486" y1="2240" x2="2598" y2="2240" stroke-width="4"/>
<line x1="2758" y1="2240" x2="2870" y2="2240" stroke-width="4"/>
<polygon points="2506,2325 2486.9,2314 2486.9,2292 2506,2281 2525.1,2292 2525.1,2314" stroke-width="7" fill="none"/>
<circle cx="2506" cy="2303" r="14" stroke-width="7" fill="none"/>
<polygon points="2849,2325 2829.9,2314 2829.9,2292 2849,2281 2868.1,2292 2868.1,2314" stroke-width="7" fill="none"/>
<circle cx="2849" cy="2303" r="14" stroke-width="7" fill="none"/>
<path d="M 2586,2270 Q 2560,2305 2583,2342" stroke-width="6.5" fill="none"/>
<line x1="2594" y1="2270" x2="2594" y2="2342" stroke-width="5"/>
<path d="M 2578,2290 Q 2570,2308 2578,2325" stroke-width="3" fill="none"/>
<rect x="2770" y="2275" width="26" height="60" rx="8" stroke-width="7" fill="none"/>
<line x1="2770" y1="2290" x2="2796" y2="2290" stroke-width="4"/>
<line x1="2770" y1="2320" x2="2796" y2="2320" stroke-width="4"/>
<line x1="2762" y1="2270" x2="2762" y2="2342" stroke-width="4"/>
<rect x="3423" y="2227" width="404" height="116" rx="12" stroke-width="7" fill="#fff"/>
<rect x="3425" y="2244" width="125" height="22" rx="0" stroke="none" fill="#000"/>
<rect x="3700" y="2244" width="125" height="22" rx="0" stroke="none" fill="#000"/>
<line x1="3433" y1="2237" x2="3545" y2="2237" stroke-width="4"/>
<line x1="3705" y1="2237" x2="3817" y2="2237" stroke-width="4"/>
<polygon points="3453,2322 3433.9,2311 3433.9,2289 3453,2278 3472.1,2289 3472.1,2311" stroke-width="7" fill="none"/>
<circle cx="3453" cy="2300" r="14" stroke-width="7" fill="none"/>
<polygon points="3796,2322 3776.9,2311 3776.9,2289 3796,2278 3815.1,2289 3815.1,2311" stroke-width="7" fill="none"/>
<circle cx="3796" cy="2300" r="14" stroke-width="7" fill="none"/>
<path d="M 3533,2267 Q 3507,2302 3530,2339" stroke-width="6.5" fill="none"/>
<line x1="3541" y1="2267" x2="3541" y2="2339" stroke-width="5"/>
<path d="M 3525,2287 Q 3517,2305 3525,2322" stroke-width="3" fill="none"/>
<rect x="3717" y="2272" width="26" height="60" rx="8" stroke-width="7" fill="none"/>
<line x1="3717" y1="2287" x2="3743" y2="2287" stroke-width="4"/>
<line x1="3717" y1="2317" x2="3743" y2="2317" stroke-width="4"/>
<line x1="3709" y1="2267" x2="3709" y2="2339" stroke-width="4"/>
<path d="M 279,2018 Q 281,2012 287,2012 L 297,2012 Q 303,2012 305,2018 L 353,2152 Q 369,2182 385,2152 L 433,2018 Q 435,2012 441,2012 L 451,2012 Q 457,2012 459,2018 L 520,2192 Q 532,2234 497,2240 Q 478,2243 462,2237 Q 449,2232 436,2237 Q 410,2245 384,2237 Q 371,2232 358,2237 Q 332,2245 306,2237 Q 293,2232 280,2237 Q 264,2243 245,2240 Q 206,2234 218,2192 Z" stroke-width="6" fill="#fff"/>
<circle cx="255" cy="2205" r="12.5" stroke-width="5.5" fill="none"/>
<circle cx="332" cy="2205" r="12.5" stroke-width="5.5" fill="none"/>
<circle cx="410" cy="2205" r="12.5" stroke-width="5.5" fill="none"/>
<circle cx="488" cy="2205" r="12.5" stroke-width="5.5" fill="none"/>
<path d="M 589,2018 Q 591,2012 597,2012 L 607,2012 Q 613,2012 615,2018 L 663,2152 Q 679,2182 695,2152 L 743,2018 Q 745,2012 751,2012 L 761,2012 Q 767,2012 769,2018 L 830,2192 Q 842,2234 807,2240 Q 788,2243 772,2237 Q 759,2232 746,2237 Q 720,2245 694,2237 Q 681,2232 668,2237 Q 642,2245 616,2237 Q 603,2232 590,2237 Q 574,2243 555,2240 Q 516,2234 528,2192 Z" stroke-width="6" fill="#fff"/>
<circle cx="565" cy="2205" r="12.5" stroke-width="5.5" fill="none"/>
<circle cx="642" cy="2205" r="12.5" stroke-width="5.5" fill="none"/>
<circle cx="720" cy="2205" r="12.5" stroke-width="5.5" fill="none"/>
<circle cx="798" cy="2205" r="12.5" stroke-width="5.5" fill="none"/>
<path d="M 899,2018 Q 901,2012 907,2012 L 917,2012 Q 923,2012 925,2018 L 973,2152 Q 989,2182 1005,2152 L 1053,2018 Q 1055,2012 1061,2012 L 1071,2012 Q 1077,2012 1079,2018 L 1140,2192 Q 1152,2234 1117,2240 Q 1098,2243 1082,2237 Q 1069,2232 1056,2237 Q 1030,2245 1004,2237 Q 991,2232 978,2237 Q 952,2245 926,2237 Q 913,2232 900,2237 Q 884,2243 865,2240 Q 826,2234 838,2192 Z" stroke-width="6" fill="#fff"/>
<circle cx="875" cy="2205" r="12.5" stroke-width="5.5" fill="none"/>
<circle cx="952" cy="2205" r="12.5" stroke-width="5.5" fill="none"/>
<circle cx="1030" cy="2205" r="12.5" stroke-width="5.5" fill="none"/>
<circle cx="1108" cy="2205" r="12.5" stroke-width="5.5" fill="none"/>
<path d="M 1209,2018 Q 1211,2012 1217,2012 L 1227,2012 Q 1233,2012 1235,2018 L 1283,2152 Q 1299,2182 1315,2152 L 1363,2018 Q 1365,2012 1371,2012 L 1381,2012 Q 1387,2012 1389,2018 L 1450,2192 Q 1462,2234 1427,2240 Q 1408,2243 1392,2237 Q 1379,2232 1366,2237 Q 1340,2245 1314,2237 Q 1301,2232 1288,2237 Q 1262,2245 1236,2237 Q 1223,2232 1210,2237 Q 1194,2243 1175,2240 Q 1136,2234 1148,2192 Z" stroke-width="6" fill="#fff"/>
<circle cx="1185" cy="2205" r="12.5" stroke-width="5.5" fill="none"/>
<circle cx="1262" cy="2205" r="12.5" stroke-width="5.5" fill="none"/>
<circle cx="1340" cy="2205" r="12.5" stroke-width="5.5" fill="none"/>
<circle cx="1418" cy="2205" r="12.5" stroke-width="5.5" fill="none"/>
<path d="M 1519,2018 Q 1521,2012 1527,2012 L 1537,2012 Q 1543,2012 1545,2018 L 1593,2152 Q 1609,2182 1625,2152 L 1673,2018 Q 1675,2012 1681,2012 L 1691,2012 Q 1697,2012 1699,2018 L 1760,2192 Q 1772,2234 1737,2240 Q 1718,2243 1702,2237 Q 1689,2232 1676,2237 Q 1650,2245 1624,2237 Q 1611,2232 1598,2237 Q 1572,2245 1546,2237 Q 1533,2232 1520,2237 Q 1504,2243 1485,2240 Q 1446,2234 1458,2192 Z" stroke-width="6" fill="#fff"/>
<circle cx="1495" cy="2205" r="12.5" stroke-width="5.5" fill="none"/>
<circle cx="1572" cy="2205" r="12.5" stroke-width="5.5" fill="none"/>
<circle cx="1650" cy="2205" r="12.5" stroke-width="5.5" fill="none"/>
<circle cx="1728" cy="2205" r="12.5" stroke-width="5.5" fill="none"/>
<path d="M 2139,2013 Q 2141,2007 2147,2007 L 2157,2007 Q 2163,2007 2165,2013 L 2213,2147 Q 2229,2177 2245,2147 L 2293,2013 Q 2295,2007 2301,2007 L 2311,2007 Q 2317,2007 2319,2013 L 2380,2187 Q 2392,2229 2357,2235 Q 2338,2238 2322,2232 Q 2309,2227 2296,2232 Q 2270,2240 2244,2232 Q 2231,2227 2218,2232 Q 2192,2240 2166,2232 Q 2153,2227 2140,2232 Q 2124,2238 2105,2235 Q 2066,2229 2078,2187 Z" stroke-width="6" fill="#fff"/>
<circle cx="2115" cy="2200" r="12.5" stroke-width="5.5" fill="none"/>
<circle cx="2192" cy="2200" r="12.5" stroke-width="5.5" fill="none"/>
<circle cx="2270" cy="2200" r="12.5" stroke-width="5.5" fill="none"/>
<circle cx="2348" cy="2200" r="12.5" stroke-width="5.5" fill="none"/>
<path d="M 2449,2012.6 Q 2451,2006.6 2457,2006.6 L 2467,2006.6 Q 2473,2006.6 2475,2012.6 L 2523,2146.6 Q 2539,2176.6 2555,2146.6 L 2603,2012.6 Q 2605,2006.6 2611,2006.6 L 2621,2006.6 Q 2627,2006.6 2629,2012.6 L 2690,2186.6 Q 2702,2228.6 2667,2234.6 Q 2648,2237.6 2632,2231.6 Q 2619,2226.6 2606,2231.6 Q 2580,2239.6 2554,2231.6 Q 2541,2226.6 2528,2231.6 Q 2502,2239.6 2476,2231.6 Q 2463,2226.6 2450,2231.6 Q 2434,2237.6 2415,2234.6 Q 2376,2228.6 2388,2186.6 Z" stroke-width="6" fill="#fff"/>
<circle cx="2425" cy="2199.6" r="12.5" stroke-width="5.5" fill="none"/>
<circle cx="2502" cy="2199.6" r="12.5" stroke-width="5.5" fill="none"/>
<circle cx="2580" cy="2199.6" r="12.5" stroke-width="5.5" fill="none"/>
<circle cx="2658" cy="2199.6" r="12.5" stroke-width="5.5" fill="none"/>
<path d="M 2757,2012.2 Q 2759,2006.2 2765,2006.2 L 2775,2006.2 Q 2781,2006.2 2783,2012.2 L 2831,2146.2 Q 2847,2176.2 2863,2146.2 L 2911,2012.2 Q 2913,2006.2 2919,2006.2 L 2929,2006.2 Q 2935,2006.2 2937,2012.2 L 2998,2186.2 Q 3010,2228.2 2975,2234.2 Q 2956,2237.2 2940,2231.2 Q 2927,2226.2 2914,2231.2 Q 2888,2239.2 2862,2231.2 Q 2849,2226.2 2836,2231.2 Q 2810,2239.2 2784,2231.2 Q 2771,2226.2 2758,2231.2 Q 2742,2237.2 2723,2234.2 Q 2684,2228.2 2696,2186.2 Z" stroke-width="6" fill="#fff"/>
<circle cx="2733" cy="2199.2" r="12.5" stroke-width="5.5" fill="none"/>
<circle cx="2810" cy="2199.2" r="12.5" stroke-width="5.5" fill="none"/>
<circle cx="2888" cy="2199.2" r="12.5" stroke-width="5.5" fill="none"/>
<circle cx="2966" cy="2199.2" r="12.5" stroke-width="5.5" fill="none"/>
<path d="M 3067,2011.8 Q 3069,2005.8 3075,2005.8 L 3085,2005.8 Q 3091,2005.8 3093,2011.8 L 3141,2145.8 Q 3157,2175.8 3173,2145.8 L 3221,2011.8 Q 3223,2005.8 3229,2005.8 L 3239,2005.8 Q 3245,2005.8 3247,2011.8 L 3308,2185.8 Q 3320,2227.8 3285,2233.8 Q 3266,2236.8 3250,2230.8 Q 3237,2225.8 3224,2230.8 Q 3198,2238.8 3172,2230.8 Q 3159,2225.8 3146,2230.8 Q 3120,2238.8 3094,2230.8 Q 3081,2225.8 3068,2230.8 Q 3052,2236.8 3033,2233.8 Q 2994,2227.8 3006,2185.8 Z" stroke-width="6" fill="#fff"/>
<circle cx="3043" cy="2198.8" r="12.5" stroke-width="5.5" fill="none"/>
<circle cx="3120" cy="2198.8" r="12.5" stroke-width="5.5" fill="none"/>
<circle cx="3198" cy="2198.8" r="12.5" stroke-width="5.5" fill="none"/>
<circle cx="3276" cy="2198.8" r="12.5" stroke-width="5.5" fill="none"/>
<path d="M 3374,2011.4 Q 3376,2005.4 3382,2005.4 L 3392,2005.4 Q 3398,2005.4 3400,2011.4 L 3448,2145.4 Q 3464,2175.4 3480,2145.4 L 3528,2011.4 Q 3530,2005.4 3536,2005.4 L 3546,2005.4 Q 3552,2005.4 3554,2011.4 L 3615,2185.4 Q 3627,2227.4 3592,2233.4 Q 3573,2236.4 3557,2230.4 Q 3544,2225.4 3531,2230.4 Q 3505,2238.4 3479,2230.4 Q 3466,2225.4 3453,2230.4 Q 3427,2238.4 3401,2230.4 Q 3388,2225.4 3375,2230.4 Q 3359,2236.4 3340,2233.4 Q 3301,2227.4 3313,2185.4 Z" stroke-width="6" fill="#fff"/>
<circle cx="3350" cy="2198.4" r="12.5" stroke-width="5.5" fill="none"/>
<circle cx="3427" cy="2198.4" r="12.5" stroke-width="5.5" fill="none"/>
<circle cx="3505" cy="2198.4" r="12.5" stroke-width="5.5" fill="none"/>
<circle cx="3583" cy="2198.4" r="12.5" stroke-width="5.5" fill="none"/>
<path d="M 3687,2011 Q 3689,2005 3695,2005 L 3705,2005 Q 3711,2005 3713,2011 L 3761,2145 Q 3777,2175 3793,2145 L 3841,2011 Q 3843,2005 3849,2005 L 3859,2005 Q 3865,2005 3867,2011 L 3928,2185 Q 3940,2227 3905,2233 Q 3886,2236 3870,2230 Q 3857,2225 3844,2230 Q 3818,2238 3792,2230 Q 3779,2225 3766,2230 Q 3740,2238 3714,2230 Q 3701,2225 3688,2230 Q 3672,2236 3653,2233 Q 3614,2227 3626,2185 Z" stroke-width="6" fill="#fff"/>
<circle cx="3663" cy="2198" r="12.5" stroke-width="5.5" fill="none"/>
<circle cx="3740" cy="2198" r="12.5" stroke-width="5.5" fill="none"/>
<circle cx="3818" cy="2198" r="12.5" stroke-width="5.5" fill="none"/>
<circle cx="3896" cy="2198" r="12.5" stroke-width="5.5" fill="none"/>
<rect x="1347" y="2107" width="253" height="74" rx="13" stroke-width="7" fill="#fff"/>
<rect x="1349" y="2146" width="249" height="9" rx="0" stroke="none" fill="#000"/>
<line x1="1351" y1="2164" x2="1393" y2="2164" stroke-width="5"/>
<line x1="1553" y1="2164" x2="1596" y2="2164" stroke-width="5"/>
<rect x="1396" y="2171" width="154" height="169" rx="3" stroke-width="8" fill="#fff"/>
<path d="M 1387,2155 Q 1396,2159 1396,2173" stroke-width="5" fill="none"/>
<path d="M 1559,2155 Q 1550,2159 1550,2173" stroke-width="5" fill="none"/>
<rect x="1396" y="2164" width="154" height="9" rx="0" stroke="none" fill="#000"/>
<rect x="2552" y="2102" width="253" height="74" rx="13" stroke-width="7" fill="#fff"/>
<rect x="2554" y="2141" width="249" height="9" rx="0" stroke="none" fill="#000"/>
<line x1="2556" y1="2159" x2="2598" y2="2159" stroke-width="5"/>
<line x1="2758" y1="2159" x2="2801" y2="2159" stroke-width="5"/>
<rect x="2601" y="2166" width="154" height="170" rx="3" stroke-width="8" fill="#fff"/>
<path d="M 2592,2150 Q 2601,2154 2601,2168" stroke-width="5" fill="none"/>
<path d="M 2764,2150 Q 2755,2154 2755,2168" stroke-width="5" fill="none"/>
<rect x="2601" y="2159" width="154" height="9" rx="0" stroke="none" fill="#000"/>
<rect x="3499" y="2100" width="253" height="74" rx="13" stroke-width="7" fill="#fff"/>
<rect x="3501" y="2139" width="249" height="9" rx="0" stroke="none" fill="#000"/>
<line x1="3503" y1="2157" x2="3545" y2="2157" stroke-width="5"/>
<line x1="3705" y1="2157" x2="3748" y2="2157" stroke-width="5"/>
<rect x="3548" y="2164" width="154" height="169" rx="3" stroke-width="8" fill="#fff"/>
<path d="M 3539,2148 Q 3548,2152 3548,2166" stroke-width="5" fill="none"/>
<path d="M 3711,2148 Q 3702,2152 3702,2166" stroke-width="5" fill="none"/>
<rect x="3548" y="2157" width="154" height="9" rx="0" stroke="none" fill="#000"/>
<path d="M 1147,2483 L 1147,2797 Q 1147,2803 1157,2806 Q 1225,2827 1293,2806 Q 1303,2803 1303,2797 L 1303,2483" stroke-width="7" fill="#fff"/>
<path d="M 1153,2789 Q 1225,2811 1297,2789" stroke-width="6.5" fill="none"/>
<path d="M 1109,2361 L 1109,2402 L 1154,2508 Q 1158,2514 1166,2514 L 1291,2514 Q 1299,2514 1303,2508 L 1342,2402 L 1342,2361" stroke-width="7" fill="#fff"/>
<line x1="1163" y1="2647" x2="1287" y2="2647" stroke-width="6.5"/>
<ellipse cx="1226" cy="2762" rx="15" ry="9" stroke-width="6.5" fill="none"/>
<path d="M 1187,2404 Q 1199,2404 1200,2416 Q 1216,2426 1216,2440 Q 1216,2462 1199,2468 L 1175,2468 Q 1158,2462 1158,2440 Q 1158,2426 1174,2416 Q 1175,2404 1187,2404 Z" stroke-width="2" fill="#000"/>
<circle cx="1187" cy="2440" r="8" stroke-width="0" fill="#fff"/>
<rect x="1173" y="2464" width="28" height="38" rx="12" stroke-width="6" fill="#fff"/>
<rect x="1173" y="2464" width="28" height="12" rx="0" stroke="none" fill="#000"/>
<line x1="1175" y1="2490" x2="1199" y2="2490" stroke-width="4"/>
<path d="M 1263,2404 Q 1275,2404 1276,2416 Q 1292,2426 1292,2440 Q 1292,2462 1275,2468 L 1251,2468 Q 1234,2462 1234,2440 Q 1234,2426 1250,2416 Q 1251,2404 1263,2404 Z" stroke-width="2" fill="#000"/>
<circle cx="1263" cy="2440" r="8" stroke-width="0" fill="#fff"/>
<rect x="1249" y="2464" width="28" height="38" rx="12" stroke-width="6" fill="#fff"/>
<rect x="1249" y="2464" width="28" height="12" rx="0" stroke="none" fill="#000"/>
<line x1="1251" y1="2490" x2="1275" y2="2490" stroke-width="4"/>
<path d="M 3796,2472 L 3796,2790 Q 3796,2796 3806,2799 Q 3867,2820 3941,2799 Q 3951,2796 3951,2790 L 3951,2472" stroke-width="7" fill="#fff"/>
<path d="M 3802,2782 Q 3867,2804 3945,2782" stroke-width="6.5" fill="none"/>
<path d="M 3756,2354 L 3756,2379 L 3796,2497 Q 3800,2503 3808,2503 L 3932,2503 Q 3940,2503 3944,2497 L 3978,2379 L 3978,2354" stroke-width="7" fill="#fff"/>
<line x1="3812" y1="2638" x2="3935" y2="2638" stroke-width="6.5"/>
<ellipse cx="3873" cy="2753" rx="15" ry="9" stroke-width="6.5" fill="none"/>
<path d="M 3834,2397 Q 3846,2397 3847,2409 Q 3863,2419 3863,2433 Q 3863,2455 3846,2461 L 3822,2461 Q 3805,2455 3805,2433 Q 3805,2419 3821,2409 Q 3822,2397 3834,2397 Z" stroke-width="2" fill="#000"/>
<circle cx="3834" cy="2433" r="8" stroke-width="0" fill="#fff"/>
<rect x="3820" y="2457" width="28" height="38" rx="12" stroke-width="6" fill="#fff"/>
<rect x="3820" y="2457" width="28" height="12" rx="0" stroke="none" fill="#000"/>
<line x1="3822" y1="2483" x2="3846" y2="2483" stroke-width="4"/>
<path d="M 3909,2397 Q 3921,2397 3922,2409 Q 3938,2419 3938,2433 Q 3938,2455 3921,2461 L 3897,2461 Q 3880,2455 3880,2433 Q 3880,2419 3896,2409 Q 3897,2397 3909,2397 Z" stroke-width="2" fill="#000"/>
<circle cx="3909" cy="2433" r="8" stroke-width="0" fill="#fff"/>
<rect x="3895" y="2457" width="28" height="38" rx="12" stroke-width="6" fill="#fff"/>
<rect x="3895" y="2457" width="28" height="12" rx="0" stroke="none" fill="#000"/>
<line x1="3897" y1="2483" x2="3921" y2="2483" stroke-width="4"/>
<rect x="174" y="2401" width="50" height="22" rx="10" stroke-width="6" fill="#fff"/>
<ellipse cx="199" cy="2412" rx="10" ry="5" stroke-width="4" fill="none"/>
<rect x="251" y="2401" width="50" height="22" rx="10" stroke-width="6" fill="#fff"/>
<ellipse cx="276" cy="2412" rx="10" ry="5" stroke-width="4" fill="none"/>
<rect x="287" y="2401" width="14" height="22" rx="0" stroke="none" fill="#000"/>
<line x1="301" y1="2411" x2="353" y2="2411" stroke-width="6.5"/>
<text transform="translate(372.2,2445.6) scale(0.900,1)" font-size="84.3" stroke="#000" stroke-width="0.8">19</text>
<path d="M 323,2470 L 323,2548 Q 323,2565 340,2565 L 714,2565 Q 731,2565 731,2548 L 731,2470 Q 731,2459 720,2459 L 334,2459 Q 323,2459 323,2470 Z" stroke-width="6" fill="#fff"/>
<rect x="325" y="2471" width="404" height="12" rx="0" stroke="none" fill="#000"/>
<ellipse cx="353" cy="2525" rx="13" ry="19" stroke-width="6.5" fill="none"/>
<ellipse cx="699" cy="2525" rx="13" ry="19" stroke-width="6.5" fill="none"/>
<line x1="283" y1="2525" x2="328" y2="2525" stroke-width="6.5"/>
<text transform="translate(196.8,2549.6) scale(0.863,1)" font-size="78.6" stroke="#000" stroke-width="0.8">11</text>
<text transform="translate(87.3,2551.6) scale(0.894,1)" font-size="84.3" stroke="#000" stroke-width="0.8">15</text>
<line x1="158" y1="2561" x2="158" y2="2670" stroke-width="6.5"/>
<ellipse cx="73" cy="2673" rx="8" ry="36" stroke-width="8" fill="none"/>
<rect x="82" y="2647" width="21" height="50" rx="4" stroke="none" fill="#000"/>
<rect x="87" y="2655" width="10" height="13" rx="2" stroke="none" fill="#fff"/>
<rect x="87" y="2678" width="10" height="12" rx="2" stroke="none" fill="#fff"/>
<rect x="102" y="2657" width="192" height="32" rx="8" stroke-width="7" fill="#fff"/>
<line x1="214" y1="2657" x2="214" y2="2689" stroke-width="8"/>
<rect x="214" y="2653" width="82" height="11" rx="4" stroke="none" fill="#000"/>
<rect x="214" y="2682" width="82" height="11" rx="4" stroke="none" fill="#000"/>
<line x1="158" y1="2561" x2="158" y2="2670" stroke-width="6.5"/>
<rect x="326" y="2633" width="122" height="77" rx="14" stroke-width="7" fill="#fff"/>
<line x1="432" y1="2637" x2="432" y2="2706" stroke-width="5"/>
<line x1="443" y1="2637" x2="443" y2="2706" stroke-width="4"/>
<ellipse cx="354" cy="2672" rx="15" ry="20" stroke-width="7" fill="none"/>
<line x1="412" y1="2676" x2="260" y2="2760" stroke-width="6.5"/>
<text transform="translate(162.6,2829.6) scale(0.848,1)" font-size="84.3" stroke="#000" stroke-width="0.8">14</text>
<rect x="604" y="2633" width="125" height="77" rx="14" stroke-width="7" fill="#fff"/>
<line x1="610" y1="2637" x2="610" y2="2706" stroke-width="4"/>
<line x1="621" y1="2637" x2="621" y2="2706" stroke-width="5"/>
<ellipse cx="701" cy="2670" rx="15" ry="20" stroke-width="7" fill="none"/>
<line x1="652" y1="2674" x2="753" y2="2742" stroke-width="6.5"/>
<text transform="translate(768.3,2822.6) scale(0.899,1)" font-size="82.9" stroke="#000" stroke-width="0.8">13</text>
<text transform="translate(768.3,2549.6) scale(0.847,1)" font-size="88.6" stroke="#000" stroke-width="0.8">17</text>
<line x1="812" y1="2561" x2="812" y2="2647" stroke-width="6.5"/>
<circle cx="812" cy="2670" r="18" stroke-width="18" fill="none"/>
<text transform="translate(879.3,2499.6) scale(0.884,1)" font-size="84.3" stroke="#000" stroke-width="0.8">16</text>
<line x1="913" y1="2559" x2="913" y2="2638" stroke-width="6.5"/>
<rect x="899" y="2638" width="28" height="63" rx="8" stroke-width="6" fill="#fff"/>
<line x1="903" y1="2660" x2="923" y2="2660" stroke-width="4"/>
<line x1="903" y1="2685" x2="923" y2="2685" stroke-width="4"/>
<rect x="341.5" y="2767" width="26" height="45" rx="4" stroke-width="7" fill="#fff"/>
<polygon points="327,2810 340.5,2806 368.5,2806 382,2810 378,2830 374,2833 335,2833 331,2830" stroke-width="3" fill="#000"/>
<ellipse cx="354.5" cy="2823" rx="8" ry="4" stroke-width="0" fill="#fff"/>
<circle cx="337" cy="2823" r="2.5" stroke-width="0" fill="#fff"/>
<circle cx="372" cy="2823" r="2.5" stroke-width="0" fill="#fff"/>
<rect x="688.5" y="2891" width="26" height="47" rx="4" stroke-width="7" fill="#fff"/>
<polygon points="674,2936 687.5,2932 715.5,2932 729,2936 725,2955 721,2958 682,2958 678,2955" stroke-width="3" fill="#000"/>
<ellipse cx="701.5" cy="2949" rx="8" ry="4" stroke-width="0" fill="#fff"/>
<circle cx="684" cy="2949" r="2.5" stroke-width="0" fill="#fff"/>
<circle cx="719" cy="2949" r="2.5" stroke-width="0" fill="#fff"/>
<line x1="703" y1="2917" x2="758" y2="2917" stroke-width="6.5"/>
<text transform="translate(768.3,2942.6) scale(0.884,1)" font-size="84.3" stroke="#000" stroke-width="0.8">18</text>
<rect x="400" y="2795" width="256" height="71" rx="12" stroke-width="7" fill="#fff"/>
<rect x="402" y="2836" width="252" height="8" rx="0" stroke="none" fill="#000"/>
<rect x="448" y="2860" width="163" height="173" rx="8" stroke-width="7" fill="#fff"/>
<path d="M 440,2844 Q 448,2850 448,2866" stroke-width="5" fill="none"/>
<path d="M 619,2844 Q 611,2850 611,2866" stroke-width="5" fill="none"/>
<rect x="448" y="2852" width="163" height="8" rx="0" stroke="none" fill="#000"/>
<line x1="604" y1="3020" x2="758" y2="3020" stroke-width="6.5"/>
<text transform="translate(768.5,3046.6) scale(0.866,1)" font-size="84.3" stroke="#000" stroke-width="0.8">12</text>
<path d="M 199,3090 L 199,3400 Q 199,3406 210,3408 Q 278,3428 347,3408 Q 358,3406 358,3400 L 358,3090" stroke-width="7" fill="#fff"/>
<path d="M 205,3392 Q 278,3412 352,3392" stroke-width="6.5" fill="none"/>
<path d="M 188,2875 L 368,2875 L 396,2891 L 396,3004 L 344,3117 Q 340,3122 330,3122 L 226,3122 Q 216,3122 211,3117 L 161,3004 L 161,2891 Z" stroke-width="7" fill="#fff"/>
<rect x="185" y="2895" width="34" height="34" rx="6" stroke-width="6.5" fill="none"/>
<rect x="261" y="2895" width="34" height="34" rx="6" stroke-width="6.5" fill="none"/>
<rect x="338" y="2895" width="34" height="34" rx="6" stroke-width="6.5" fill="none"/>
<line x1="170" y1="2972" x2="389" y2="2972" stroke-width="6.5"/>
<line x1="215" y1="3253" x2="344" y2="3253" stroke-width="6.5"/>
<ellipse cx="278" cy="3370" rx="15" ry="9" stroke-width="6.5" fill="none"/>
<path d="M 240,3008 Q 252,3008 253,3020 Q 269,3030 269,3044 Q 269,3066 252,3072 L 228,3072 Q 211,3066 211,3044 Q 211,3030 227,3020 Q 228,3008 240,3008 Z" stroke-width="2" fill="#000"/>
<circle cx="240" cy="3044" r="8" stroke-width="0" fill="#fff"/>
<rect x="226" y="3068" width="28" height="38" rx="12" stroke-width="6" fill="#fff"/>
<rect x="226" y="3068" width="28" height="12" rx="0" stroke="none" fill="#000"/>
<line x1="228" y1="3094" x2="252" y2="3094" stroke-width="4"/>
<path d="M 316,3008 Q 328,3008 329,3020 Q 345,3030 345,3044 Q 345,3066 328,3072 L 304,3072 Q 287,3066 287,3044 Q 287,3030 303,3020 Q 304,3008 316,3008 Z" stroke-width="2" fill="#000"/>
<circle cx="316" cy="3044" r="8" stroke-width="0" fill="#fff"/>
<rect x="302" y="3068" width="28" height="38" rx="12" stroke-width="6" fill="#fff"/>
<rect x="302" y="3068" width="28" height="12" rx="0" stroke="none" fill="#000"/>
<line x1="304" y1="3094" x2="328" y2="3094" stroke-width="4"/>
<path d="M 1684,2710 L 1696,2697 L 2457,2697 L 2469,2710 L 2469,2825 L 2405,3000 L 2355,3002 Q 2318,2995 2306,2960 L 2281,2850 Q 2265,2796 2202,2796 L 1949,2796 Q 1888,2796 1872,2850 L 1849,2965 Q 1838,3000 1800,3002 L 1750,3002 L 1684,2825 Z" stroke-width="7" fill="#fff"/>
<circle cx="1712" cy="2724" r="32" stroke-width="6.5" fill="none"/>
<circle cx="1712" cy="2724" r="13" stroke-width="6.5" fill="none"/>
<circle cx="1833" cy="2724" r="32" stroke-width="6.5" fill="none"/>
<circle cx="1833" cy="2724" r="13" stroke-width="6.5" fill="none"/>
<circle cx="1986" cy="2724" r="32" stroke-width="6.5" fill="none"/>
<circle cx="1986" cy="2724" r="13" stroke-width="6.5" fill="none"/>
<circle cx="2169" cy="2724" r="32" stroke-width="6.5" fill="none"/>
<circle cx="2169" cy="2724" r="13" stroke-width="6.5" fill="none"/>
<circle cx="2321" cy="2724" r="32" stroke-width="6.5" fill="none"/>
<circle cx="2321" cy="2724" r="13" stroke-width="6.5" fill="none"/>
<circle cx="2442" cy="2724" r="32" stroke-width="6.5" fill="none"/>
<circle cx="2442" cy="2724" r="13" stroke-width="6.5" fill="none"/>
<rect x="1670" y="2680" width="810" height="14" rx="0" stroke="none" fill="#fff"/>
<path d="M 1684,2712 L 1696,2697 L 2457,2697 L 2469,2712" stroke-width="7" fill="none"/>
<circle cx="1802" cy="2864" r="16" stroke-width="7" fill="none"/>
<circle cx="1802" cy="2954" r="16" stroke-width="7" fill="none"/>
<circle cx="2352" cy="2864" r="16" stroke-width="7" fill="none"/>
<circle cx="2352" cy="2954" r="16" stroke-width="7" fill="none"/>
<line x1="2096" y1="2651" x2="2096" y2="2733" stroke-width="6.5"/>
<text transform="translate(2042.4,2634.6) scale(0.829,1)" font-size="87.1" stroke="#000" stroke-width="0.8">40</text>
<text transform="translate(2384.1,2524.6) scale(0.818,1)" font-size="87.1" stroke="#000" stroke-width="0.8">51</text>
<polyline points="2433,2545 2433,2624 2374,2624" stroke-width="6.5"/>
<rect x="2339" y="2612" width="26" height="51" rx="8" stroke-width="6" fill="#fff"/>
<line x1="2343" y1="2630" x2="2361" y2="2630" stroke-width="4"/>
<line x1="2343" y1="2647" x2="2361" y2="2647" stroke-width="4"/>
<rect x="2365" y="2624" width="72" height="25" rx="4" stroke-width="6" fill="#fff"/>
<text transform="translate(1489.1,3086.6) scale(0.850,1)" font-size="88.6" stroke="#000" stroke-width="0.8">30</text>
<line x1="1590" y1="3084" x2="1690" y2="3084" stroke-width="6.5"/>
<circle cx="1711" cy="3084" r="17" stroke-width="16" fill="none"/>
<text transform="translate(1489.4,3209.6) scale(0.796,1)" font-size="85.7" stroke="#000" stroke-width="0.8">31</text>
<line x1="1590" y1="3202" x2="1700" y2="3202" stroke-width="6.5"/>
<rect x="1697" y="3150" width="29" height="60" rx="4" stroke-width="6" fill="#fff"/>
<rect x="1687" y="3207" width="50" height="26" rx="7" stroke-width="3" fill="#000"/>
<ellipse cx="1712" cy="3222" rx="9" ry="4.5" stroke-width="0" fill="#fff"/>
<circle cx="1694" cy="3222" r="2.5" stroke-width="0" fill="#fff"/>
<circle cx="1730" cy="3222" r="2.5" stroke-width="0" fill="#fff"/>
<text transform="translate(2125.4,3081.6) scale(0.869,1)" font-size="85.7" stroke="#000" stroke-width="0.8">43</text>
<line x1="2225" y1="3062" x2="2315" y2="3062" stroke-width="6.5"/>
<rect x="2315" y="3042" width="72" height="35" rx="9" stroke-width="2" fill="#000"/>
<ellipse cx="2350" cy="3056" rx="13" ry="6" stroke-width="0" fill="#fff"/>
<rect x="2371" y="3049" width="8" height="21" rx="3" stroke="none" fill="#fff"/>
<circle cx="2324" cy="3052" r="4" stroke-width="0" fill="#fff"/>
<circle cx="2324" cy="3068" r="3.5" stroke-width="0" fill="#fff"/>
<rect x="2336" y="3066" width="8" height="4" rx="0" stroke="none" fill="#fff"/>
<rect x="2350" y="3066" width="12" height="4" rx="0" stroke="none" fill="#fff"/>
<text transform="translate(2125.4,3204.6) scale(0.870,1)" font-size="82.9" stroke="#000" stroke-width="0.8">42</text>
<line x1="2225" y1="3180" x2="2315" y2="3180" stroke-width="6.5"/>
<circle cx="2350" cy="3175" r="34" stroke-width="7" fill="none"/>
<circle cx="2349" cy="3175" r="22" stroke-width="8" fill="none"/>
<text transform="translate(2125.5,3349.6) scale(0.817,1)" font-size="85.7" stroke="#000" stroke-width="0.8">41</text>
<line x1="2225" y1="3322" x2="2345" y2="3322" stroke-width="6.5"/>
<rect x="2330" y="3262" width="41" height="90" rx="5" stroke-width="10" fill="#fff"/>
<rect x="2315" y="3350" width="73" height="35" rx="9" stroke-width="9" fill="#fff"/>
<line x1="2320" y1="3348" x2="2383" y2="3348" stroke-width="6"/>
<line x1="2326" y1="3356" x2="2326" y2="3379" stroke-width="5"/>
<line x1="2377" y1="3356" x2="2377" y2="3379" stroke-width="5"/>
<rect x="2336" y="3357" width="31" height="21" rx="6" stroke-width="5" fill="none"/>
<polygon points="2839,2443 3014,2443 3044,2460 3044,2571 2995,2685 2864,2685 2811,2571 2811,2460" stroke-width="7" fill="#fff"/>
<rect x="2834" y="2462" width="34" height="32" rx="6" stroke-width="6.5" fill="none"/>
<rect x="2909" y="2462" width="34" height="32" rx="6" stroke-width="6.5" fill="none"/>
<rect x="2986" y="2462" width="34" height="32" rx="6" stroke-width="6.5" fill="none"/>
<line x1="2819" y1="2538" x2="3038" y2="2538" stroke-width="6.5"/>
<rect x="2873" y="2580" width="32" height="77" rx="16" stroke-width="7" fill="none"/>
<rect x="2950" y="2580" width="32" height="77" rx="16" stroke-width="7" fill="none"/>
<line x1="2699" y1="2508" x2="2826" y2="2508" stroke-width="6.5"/>
<text transform="translate(2603.4,2521.6) scale(0.836,1)" font-size="85.7" stroke="#000" stroke-width="0.8">46</text>
<path d="M 2540,2597 L 2547,2589 L 2687,2589 L 2694,2597 L 2694,2990 Q 2694,2996 2686,2999 Q 2616,3020 2546,2999 Q 2540,2996 2540,2990 Z" stroke-width="7" fill="#fff"/>
<path d="M 2543,2976 Q 2616,3003 2690,2976" stroke-width="7" fill="none"/>
<polyline points="2683,2682 2684,2672 2690,2669" stroke-width="4"/>
<ellipse cx="2578" cy="2639" rx="17" ry="21" stroke-width="0" fill="#000"/>
<circle cx="2577" cy="2636" r="9.5" stroke-width="0" fill="#fff"/>
<ellipse cx="2653" cy="2639" rx="17" ry="21" stroke-width="0" fill="#000"/>
<circle cx="2652" cy="2636" r="9.5" stroke-width="0" fill="#fff"/>
<line x1="2554" y1="2712" x2="2682" y2="2712" stroke-width="6.5"/>
<line x1="2554" y1="2847" x2="2682" y2="2847" stroke-width="6.5"/>
<ellipse cx="2616" cy="2961" rx="15" ry="10" stroke-width="7" fill="none"/>
<line x1="2616" y1="3008" x2="2616" y2="3099" stroke-width="6.5"/>
<text transform="translate(2574.4,3172.6) scale(0.840,1)" font-size="88.6" stroke="#000" stroke-width="0.8">45</text>
<circle cx="2774" cy="2635" r="16" stroke-width="16" fill="none"/>
<line x1="2774" y1="2657" x2="2774" y2="2711" stroke-width="6.5"/>
<text transform="translate(2727.4,2802.6) scale(0.861,1)" font-size="85.7" stroke="#000" stroke-width="0.8">49</text>
<circle cx="3136" cy="2634" r="16" stroke-width="16" fill="none"/>
<line x1="3136" y1="2656" x2="3136" y2="2711" stroke-width="6.5"/>
<text transform="translate(3087.4,2802.6) scale(0.841,1)" font-size="85.7" stroke="#000" stroke-width="0.8">47</text>
<circle cx="3206" cy="2634" r="16" stroke-width="16" fill="none"/>
<line x1="3206" y1="2541" x2="3206" y2="2610" stroke-width="6.5"/>
<text transform="translate(3171.3,2519.6) scale(0.911,1)" font-size="82.9" stroke="#000" stroke-width="0.8">48</text>
<rect x="3264" y="2608" width="24" height="51" rx="8" stroke-width="6" fill="#fff"/>
<line x1="3267" y1="2625" x2="3285" y2="2625" stroke-width="4"/>
<line x1="3267" y1="2645" x2="3285" y2="2645" stroke-width="4"/>
<line x1="3268" y1="2659" x2="3268" y2="2711" stroke-width="6.5"/>
<text transform="translate(3219,2800.6) scale(0.869,1)" font-size="85.7" stroke="#000" stroke-width="0.8">50</text>
<rect x="2903" y="2853" width="51" height="24" rx="11" stroke-width="6" fill="#fff"/>
<ellipse cx="2928" cy="2865" rx="10" ry="5" stroke-width="4" fill="none"/>
<rect x="2980" y="2853" width="51" height="24" rx="11" stroke-width="6" fill="#fff"/>
<ellipse cx="3005" cy="2865" rx="10" ry="5" stroke-width="4" fill="none"/>
<rect x="3020" y="2853" width="14" height="24" rx="0" stroke="none" fill="#000"/>
<line x1="3031" y1="2865" x2="3068" y2="2865" stroke-width="6.5"/>
<text transform="translate(3085.2,2898.6) scale(0.885,1)" font-size="85.7" stroke="#000" stroke-width="0.8">19</text>
<text transform="translate(3954,3322) rotate(-90) scale(0.97,1)" font-size="78" stroke="none">9637</text>
<polygon points="804,306 806,303 816,302 815,305 810,306" stroke-width="2" fill="#000"/>
<rect x="18" y="3452" width="5" height="3" rx="0" stroke="none" fill="#000"/>
</g></svg></body></html>
